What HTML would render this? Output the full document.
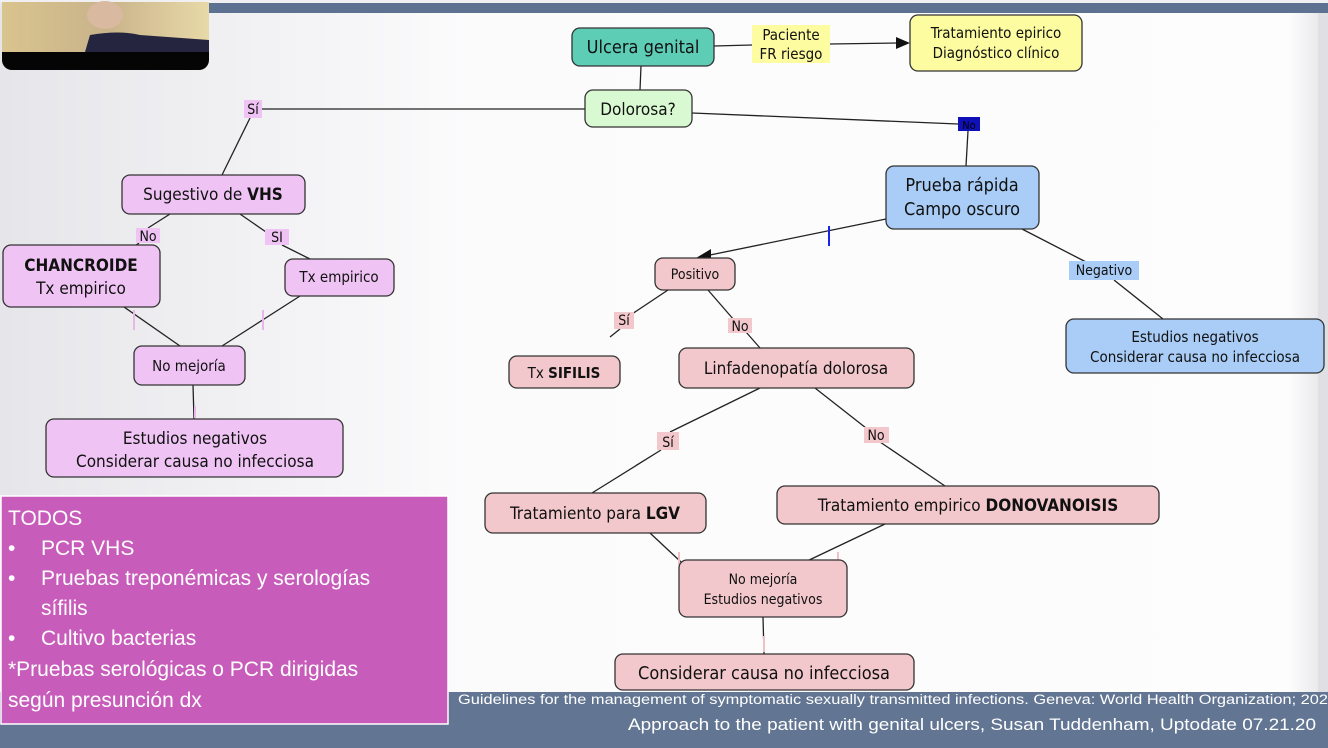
<!DOCTYPE html>
<html><head><meta charset="utf-8"><style>
html,body{margin:0;padding:0;width:1328px;height:748px;overflow:hidden;background:#f4f4f6}
svg{display:block}
text{font-family:"DejaVu Sans Condensed","DejaVu Sans","Liberation Sans",sans-serif;fill:#111}
.p{font-family:"Liberation Sans",sans-serif;fill:#fff}
</style></head><body>
<svg width="1328" height="748" viewBox="0 0 1328 748" xmlns="http://www.w3.org/2000/svg">
<defs>
<linearGradient id="bg" x1="0" y1="0" x2="1" y2="0">
<stop offset="0" stop-color="#e6e6ea"/><stop offset="0.35" stop-color="#fbfbfc"/><stop offset="0.97" stop-color="#fdfdfd"/><stop offset="1" stop-color="#e4e4e8"/>
</linearGradient>
<linearGradient id="cam" x1="0" y1="0" x2="1" y2="0">
<stop offset="0" stop-color="#d9c48f"/><stop offset="0.5" stop-color="#c9b38a"/><stop offset="1" stop-color="#e8d9a8"/>
</linearGradient>
</defs>
<rect width="1328" height="748" fill="url(#bg)"/>
<rect x="0" y="0" width="1328" height="3" fill="#f0f0f2"/>
<rect x="205" y="3" width="1123" height="10" fill="#5d7190"/>
<rect x="1318" y="13" width="10" height="680" fill="#e0e0e4"/>
<!-- webcam -->
<rect x="2" y="2" width="207" height="68" rx="10" fill="#050505"/>
<rect x="2" y="2" width="207" height="50" fill="url(#cam)"/>
<path d="M85 52 L90 35 Q120 30 140 35 L209 40 L209 52 Z" fill="#252540"/>
<ellipse cx="105" cy="15" rx="18" ry="14" fill="#d9b9a0"/>

<!-- connectors -->
<g stroke="#222" stroke-width="1.3" fill="none">
<line x1="714" y1="46" x2="752" y2="45"/>
<line x1="830" y1="44" x2="898" y2="43"/>
<line x1="641" y1="66" x2="640" y2="90"/>
<line x1="585" y1="109" x2="262" y2="109"/>
<line x1="250" y1="118" x2="222" y2="175"/>
<line x1="692" y1="113" x2="958" y2="124"/>
<line x1="968" y1="131" x2="966" y2="166"/>
<line x1="170" y1="214" x2="148" y2="228"/>
<line x1="139" y1="243" x2="135" y2="246"/>
<line x1="240" y1="214" x2="266" y2="232"/>
<line x1="282" y1="245" x2="310" y2="259"/>
<line x1="124" y1="307" x2="180" y2="346"/>
<line x1="300" y1="296" x2="222" y2="346"/>
<line x1="193" y1="385" x2="194" y2="419"/>
<line x1="886" y1="219" x2="710" y2="255"/>
<line x1="1022" y1="229" x2="1086" y2="262"/>
<line x1="1114" y1="280" x2="1163" y2="319"/>
<line x1="668" y1="290" x2="632" y2="314"/>
<line x1="620" y1="329" x2="610" y2="337"/>
<line x1="708" y1="290" x2="734" y2="320"/>
<line x1="746" y1="332" x2="760" y2="348"/>
<line x1="760" y1="388" x2="670" y2="432"/>
<line x1="661" y1="450" x2="592" y2="493"/>
<line x1="815" y1="388" x2="866" y2="428"/>
<line x1="880" y1="442" x2="945" y2="486"/>
<line x1="650" y1="533" x2="681" y2="562"/>
<line x1="885" y1="524" x2="805" y2="562"/>
<line x1="763" y1="617" x2="764" y2="654"/>
</g>
<polygon points="910,43 896,37 896,49" fill="#111"/>
<polygon points="696,258 711,249 711,262" fill="#111"/>
<g stroke-width="2">
<line x1="829" y1="226" x2="829" y2="246" stroke="#1a22ee"/>
<line x1="134" y1="310" x2="134" y2="330" stroke="#e8b6e8"/>
<line x1="263" y1="310" x2="263" y2="330" stroke="#e8b6e8"/>
<line x1="195" y1="406" x2="195" y2="418" stroke="#e8b6e8"/>
<line x1="679" y1="552" x2="679" y2="565" stroke="#f0c0c8"/>
<line x1="838" y1="552" x2="838" y2="565" stroke="#f0c0c8"/>
<line x1="764" y1="636" x2="764" y2="652" stroke="#f0c0c8"/>
</g>

<!-- nodes -->
<g stroke="#333" stroke-width="1.3">
<rect x="572" y="28" width="142" height="38" rx="8" fill="#5ecdb6"/>
<rect x="910" y="15" width="172" height="56" rx="8" fill="#fdfca0"/>
<rect x="585" y="90" width="107" height="37" rx="8" fill="#d9f9d2"/>
<rect x="122" y="175" width="183" height="39" rx="8" fill="#efc4f4"/>
<rect x="3" y="245" width="157" height="62" rx="8" fill="#efc4f4"/>
<rect x="285" y="259" width="109" height="37" rx="8" fill="#efc4f4"/>
<rect x="134" y="346" width="111" height="39" rx="8" fill="#efc4f4"/>
<rect x="46" y="419" width="297" height="58" rx="8" fill="#efc4f4"/>
<rect x="886" y="166" width="153" height="63" rx="8" fill="#a9cdf6"/>
<rect x="1066" y="319" width="258" height="54" rx="8" fill="#a9cdf6"/>
<rect x="655" y="258" width="80" height="32" rx="8" fill="#f2c8cc"/>
<rect x="509" y="356" width="111" height="32" rx="8" fill="#f2c8cc"/>
<rect x="679" y="348" width="235" height="40" rx="8" fill="#f2c8cc"/>
<rect x="485" y="493" width="221" height="40" rx="8" fill="#f2c8cc"/>
<rect x="777" y="486" width="382" height="38" rx="8" fill="#f2c8cc"/>
<rect x="679" y="560" width="168" height="57" rx="8" fill="#f2c8cc"/>
<rect x="615" y="654" width="299" height="36" rx="8" fill="#f2c8cc"/>
</g>
<!-- labels bg -->
<rect x="752" y="25" width="78" height="38" fill="#fdfca0"/>
<rect x="244" y="100" width="18" height="18" fill="#efc4f4"/>
<rect x="958" y="117" width="22" height="14" fill="#1010b8"/>
<rect x="136" y="228" width="24" height="15" fill="#efc4f4"/>
<rect x="265" y="229" width="24" height="16" fill="#efc4f4"/>
<rect x="1069" y="261" width="70" height="19" fill="#a9cdf6"/>
<rect x="614" y="312" width="20" height="17" fill="#f2c8cc"/>
<rect x="728" y="318" width="24" height="15" fill="#f2c8cc"/>
<rect x="657" y="432" width="22" height="18" fill="#f2c8cc"/>
<rect x="864" y="427" width="25" height="16" fill="#f2c8cc"/>

<g font-size="16">
<text x="643" y="53" text-anchor="middle" font-size="18">Ulcera genital</text>
<text x="791" y="40" text-anchor="middle" font-size="15">Paciente</text>
<text x="791" y="59" text-anchor="middle" font-size="15">FR riesgo</text>
<text x="996" y="38" text-anchor="middle" font-size="15">Tratamiento epirico</text>
<text x="996" y="58" text-anchor="middle" font-size="15">Diagnóstico clínico</text>
<text x="638" y="115" text-anchor="middle" font-size="17">Dolorosa?</text>
<text x="253" y="114" text-anchor="middle" font-size="14">Sí</text>
<text x="969" y="129" text-anchor="middle" font-size="11" style="fill:#000">No</text>
<text x="213" y="200" text-anchor="middle" font-size="17">Sugestivo de <tspan font-weight="bold">VHS</tspan></text>
<text x="148" y="241" text-anchor="middle" font-size="14">No</text>
<text x="277" y="242" text-anchor="middle" font-size="14">SI</text>
<text x="81" y="271" text-anchor="middle" font-size="17" font-weight="bold">CHANCROIDE</text>
<text x="81" y="294" text-anchor="middle" font-size="17">Tx empirico</text>
<text x="339" y="282" text-anchor="middle" font-size="15">Tx empirico</text>
<text x="189" y="371" text-anchor="middle" font-size="15">No mejoría</text>
<text x="195" y="444" text-anchor="middle" font-size="17">Estudios negativos</text>
<text x="195" y="467" text-anchor="middle" font-size="17">Considerar causa no infecciosa</text>
<text x="962" y="191" text-anchor="middle" font-size="18">Prueba rápida</text>
<text x="962" y="215" text-anchor="middle" font-size="18">Campo oscuro</text>
<text x="1104" y="275" text-anchor="middle" font-size="14">Negativo</text>
<text x="1195" y="342" text-anchor="middle" font-size="15">Estudios negativos</text>
<text x="1195" y="362" text-anchor="middle" font-size="15">Considerar causa no infecciosa</text>
<text x="695" y="279" text-anchor="middle" font-size="14">Positivo</text>
<text x="624" y="325" text-anchor="middle" font-size="14">Sí</text>
<text x="740" y="331" text-anchor="middle" font-size="14">No</text>
<text x="564" y="378" text-anchor="middle" font-size="15">Tx <tspan font-weight="bold">SIFILIS</tspan></text>
<text x="796" y="374" text-anchor="middle" font-size="17">Linfadenopatía dolorosa</text>
<text x="668" y="447" text-anchor="middle" font-size="14">Sí</text>
<text x="876" y="440" text-anchor="middle" font-size="14">No</text>
<text x="595" y="519" text-anchor="middle" font-size="17">Tratamiento para <tspan font-weight="bold">LGV</tspan></text>
<text x="968" y="511" text-anchor="middle" font-size="17">Tratamiento empirico <tspan font-weight="bold">DONOVANOISIS</tspan></text>
<text x="763" y="584" text-anchor="middle" font-size="14">No mejoría</text>
<text x="763" y="604" text-anchor="middle" font-size="14">Estudios negativos</text>
<text x="764" y="679" text-anchor="middle" font-size="18">Considerar causa no infecciosa</text>
</g>

<!-- bottom bar -->
<rect x="0" y="692" width="1328" height="56" fill="#627592"/>
<text class="p" x="458" y="704" font-size="13.5" textLength="870" lengthAdjust="spacingAndGlyphs">Guidelines for the management of symptomatic sexually transmitted infections. Geneva: World Health Organization; 202</text>
<text class="p" x="628" y="730" font-size="17" textLength="688" lengthAdjust="spacingAndGlyphs">Approach to the patient with genital ulcers, Susan Tuddenham, Uptodate 07.21.20</text>

<!-- purple box -->
<rect x="1" y="496" width="447" height="228" fill="#c85cbb" stroke="#fff" stroke-width="1.5"/>
<g class="p" font-size="21">
<text class="p" x="8" y="525">TODOS</text>
<text class="p" x="8" y="555">•</text><text class="p" x="41" y="555">PCR VHS</text>
<text class="p" x="8" y="585">•</text><text class="p" x="41" y="585">Pruebas treponémicas y serologías</text>
<text class="p" x="41" y="615">sífilis</text>
<text class="p" x="8" y="645">•</text><text class="p" x="41" y="645">Cultivo bacterias</text>
<text class="p" x="8" y="676">*Pruebas serológicas o PCR dirigidas</text>
<text class="p" x="8" y="707">según presunción dx</text>
</g>
</svg>
</body></html>
